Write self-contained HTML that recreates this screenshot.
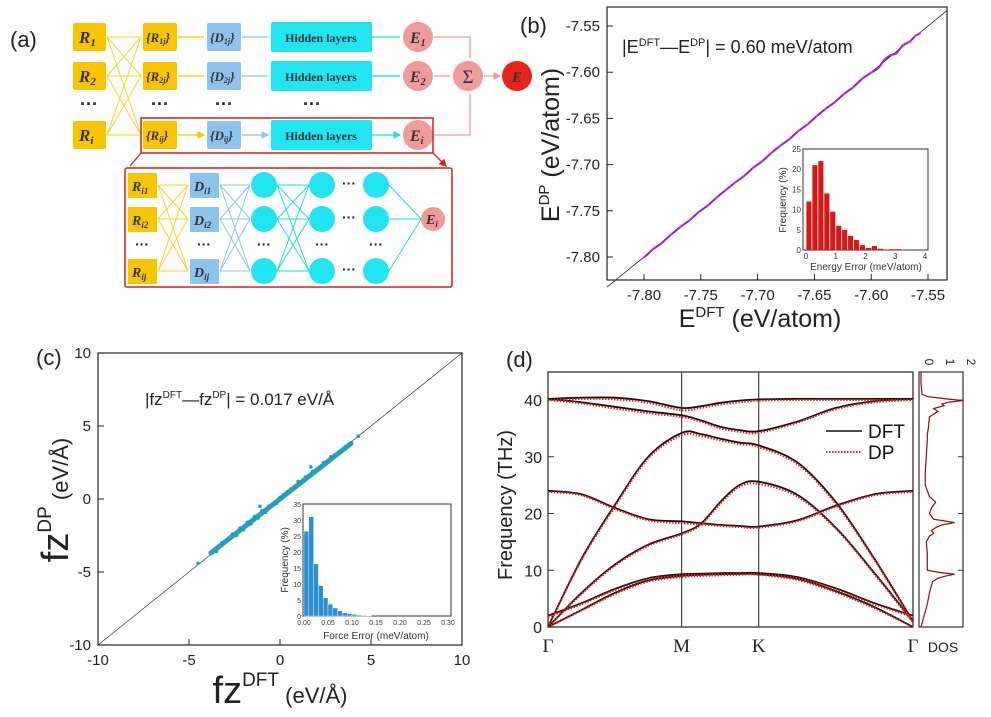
<!DOCTYPE html>
<html><head><meta charset="utf-8"><style>
html,body{margin:0;padding:0;background:#fff;}
svg{display:block;font-family:"Liberation Sans",sans-serif;}
.ser{font-family:"Liberation Serif",serif;font-weight:bold;font-style:italic;fill:#333;}
</style></head><body>
<svg id="fig" width="991" height="717" viewBox="0 0 991 717" xmlns="http://www.w3.org/2000/svg">
<defs>
<marker id="ay" markerWidth="6" markerHeight="6" refX="5" refY="3" orient="auto"><path d="M0,0 L6,3 L0,6 z" fill="#f7c600"/></marker>
<marker id="ab" markerWidth="6" markerHeight="6" refX="5" refY="3" orient="auto"><path d="M0,0 L6,3 L0,6 z" fill="#8cc4ee"/></marker>
<marker id="ac" markerWidth="6" markerHeight="6" refX="5" refY="3" orient="auto"><path d="M0,0 L6,3 L0,6 z" fill="#22dbe8"/></marker>
<marker id="ap" markerWidth="6" markerHeight="6" refX="5" refY="3" orient="auto"><path d="M0,0 L6,3 L0,6 z" fill="#f19a9a"/></marker>
<marker id="ar" markerWidth="6" markerHeight="6" refX="5" refY="3" orient="auto"><path d="M0,0 L6,3 L0,6 z" fill="#d02020"/></marker>
</defs>

<!-- ============ Panel (a) ============ -->
<g>
<text x="10" y="47" font-size="22" fill="#222">(a)</text>
<g stroke="#f7c600" stroke-width="1" fill="none" opacity="0.8">
<path d="M107,37 L141,37 M107,37 L141,76 M107,37 L141,135 M107,76 L141,37 M107,76 L141,76 M107,76 L141,135 M107,135 L141,37 M107,135 L141,76 M107,135 L141,135"/>
</g>
<g stroke-width="1.3" fill="none">
<path d="M178,37 H204 M178,76 H204 M178,135 H204" stroke="#f7c600" marker-end="url(#ay)"/>
<path d="M242,37 H268 M242,76 H268 M242,135 H268" stroke="#8cc4ee" marker-end="url(#ab)"/>
<path d="M372,37 H400 M372,76 H400 M372,135 H400" stroke="#22dbe8" marker-end="url(#ac)"/>
<path d="M434,37 H470 V58 M434,76 H450 M434,135 H470 V94 M484,76 H500" stroke="#f19a9a" marker-end="url(#ap)"/>
</g>
<g>
<rect x="73" y="23" width="33" height="28" rx="2" fill="#f7c600"/>
<rect x="73" y="62" width="33" height="28" rx="2" fill="#f7c600"/>
<rect x="73" y="121" width="33" height="28" rx="2" fill="#f7c600"/>
<text class="ser" x="79" y="43" font-size="17">R<tspan font-size="11" dy="3">1</tspan></text>
<text class="ser" x="79" y="82" font-size="17">R<tspan font-size="11" dy="3">2</tspan></text>
<text class="ser" x="79" y="141" font-size="17">R<tspan font-size="11" dy="3">i</tspan></text>
</g>
<g>
<rect x="143" y="23" width="34" height="28" rx="2" fill="#f7c600"/>
<rect x="143" y="62" width="34" height="28" rx="2" fill="#f7c600"/>
<rect x="143" y="121" width="34" height="28" rx="2" fill="#f7c600"/>
<text class="ser" x="146" y="42" font-size="13">{R<tspan font-size="8" dy="2">1j</tspan><tspan dy="-2">}</tspan></text>
<text class="ser" x="146" y="81" font-size="13">{R<tspan font-size="8" dy="2">2j</tspan><tspan dy="-2">}</tspan></text>
<text class="ser" x="146" y="140" font-size="13">{R<tspan font-size="8" dy="2">ij</tspan><tspan dy="-2">}</tspan></text>
</g>
<g>
<rect x="207" y="23" width="34" height="28" rx="2" fill="#8cc4ee"/>
<rect x="207" y="62" width="34" height="28" rx="2" fill="#8cc4ee"/>
<rect x="207" y="121" width="34" height="28" rx="2" fill="#8cc4ee"/>
<text class="ser" x="210" y="42" font-size="13">{D<tspan font-size="8" dy="2">1j</tspan><tspan dy="-2">}</tspan></text>
<text class="ser" x="210" y="81" font-size="13">{D<tspan font-size="8" dy="2">2j</tspan><tspan dy="-2">}</tspan></text>
<text class="ser" x="210" y="140" font-size="13">{D<tspan font-size="8" dy="2">ij</tspan><tspan dy="-2">}</tspan></text>
</g>
<g>
<rect x="271" y="22" width="101" height="30" rx="2" fill="#22e5f0"/>
<rect x="271" y="61" width="101" height="30" rx="2" fill="#22e5f0"/>
<rect x="271" y="120" width="101" height="30" rx="2" fill="#22e5f0"/>
<text x="321" y="42" font-size="12" font-weight="bold" text-anchor="middle" fill="#333" font-family="Liberation Serif,serif">Hidden layers</text>
<text x="321" y="81" font-size="12" font-weight="bold" text-anchor="middle" fill="#333" font-family="Liberation Serif,serif">Hidden layers</text>
<text x="321" y="140" font-size="12" font-weight="bold" text-anchor="middle" fill="#333" font-family="Liberation Serif,serif">Hidden layers</text>
</g>
<g font-size="18" font-weight="bold" fill="#222" text-anchor="middle">
<text x="89" y="110">···</text><text x="160" y="110">···</text><text x="224" y="110">···</text><text x="312" y="110">···</text>
</g>
<g>
<circle cx="418" cy="37" r="15" fill="#f19a9a"/>
<circle cx="418" cy="76" r="15" fill="#f19a9a"/>
<circle cx="418" cy="135" r="15" fill="#f19a9a"/>
<circle cx="468" cy="76" r="15" fill="#f19a9a"/>
<circle cx="517" cy="76" r="15" fill="#e8251c"/>
<text class="ser" x="410" y="43" font-size="16">E<tspan font-size="10" dy="3">1</tspan></text>
<text class="ser" x="410" y="82" font-size="16">E<tspan font-size="10" dy="3">2</tspan></text>
<text class="ser" x="410" y="141" font-size="16">E<tspan font-size="10" dy="3">i</tspan></text>
<text x="468" y="83" font-size="19" text-anchor="middle" fill="#333" font-family="Liberation Serif,serif">Σ</text>
<text class="ser" x="517" y="82" font-size="15" text-anchor="middle">E</text>
</g>
<rect x="141" y="118" width="292" height="35" fill="none" stroke="#d02020" stroke-width="1.5"/>
<path d="M141,153 L130,166 M433,153 L446,166" stroke="#d02020" stroke-width="1.3" marker-end="url(#ar)"/>
<rect x="125" y="168" width="327" height="119" rx="2" fill="none" stroke="#d02020" stroke-width="1.5"/>
<g stroke="#f7c600" stroke-width="1" fill="none" opacity="0.8">
<path d="M158,185 L188,185 M158,185 L188,219 M158,185 L188,271 M158,219 L188,185 M158,219 L188,219 M158,219 L188,271 M158,271 L188,185 M158,271 L188,219 M158,271 L188,271"/>
</g>
<g stroke="#8cc4ee" stroke-width="1" fill="none">
<path d="M220,185 L250,185 M220,185 L250,219 M220,185 L250,271 M220,219 L250,185 M220,219 L250,219 M220,219 L250,271 M220,271 L250,185 M220,271 L250,219 M220,271 L250,271"/>
</g>
<g stroke="#22dbe8" stroke-width="1" fill="none">
<path d="M277,185 L309,185 M277,185 L309,219 M277,185 L309,271 M277,219 L309,185 M277,219 L309,219 M277,219 L309,271 M277,271 L309,185 M277,271 L309,219 M277,271 L309,271 M389,185 L421,219 M389,219 L421,219 M389,271 L421,219"/>
</g>
<g>
<rect x="128" y="173" width="29" height="25" fill="#f7c600"/><rect x="128" y="207" width="29" height="25" fill="#f7c600"/><rect x="128" y="259" width="29" height="25" fill="#f7c600"/>
<rect x="190" y="173" width="29" height="25" fill="#8cc4ee"/><rect x="190" y="207" width="29" height="25" fill="#8cc4ee"/><rect x="190" y="259" width="29" height="25" fill="#8cc4ee"/>
<text class="ser" x="132" y="191" font-size="14">R<tspan font-size="9" dy="3">i1</tspan></text>
<text class="ser" x="132" y="225" font-size="14">R<tspan font-size="9" dy="3">i2</tspan></text>
<text class="ser" x="132" y="277" font-size="14">R<tspan font-size="9" dy="3">ij</tspan></text>
<text class="ser" x="194" y="191" font-size="14">D<tspan font-size="9" dy="3">i1</tspan></text>
<text class="ser" x="194" y="225" font-size="14">D<tspan font-size="9" dy="3">i2</tspan></text>
<text class="ser" x="194" y="277" font-size="14">D<tspan font-size="9" dy="3">ij</tspan></text>
<circle cx="264" cy="185" r="13" fill="#22e5f0"/><circle cx="264" cy="219" r="13" fill="#22e5f0"/><circle cx="264" cy="271" r="13" fill="#22e5f0"/>
<circle cx="322" cy="185" r="13" fill="#22e5f0"/><circle cx="322" cy="219" r="13" fill="#22e5f0"/><circle cx="322" cy="271" r="13" fill="#22e5f0"/>
<circle cx="376" cy="185" r="13" fill="#22e5f0"/><circle cx="376" cy="219" r="13" fill="#22e5f0"/><circle cx="376" cy="271" r="13" fill="#22e5f0"/>
<circle cx="433" cy="219" r="12" fill="#f19a9a"/>
<text class="ser" x="426" y="224" font-size="14">E<tspan font-size="9" dy="3">i</tspan></text>
<g font-size="14" font-weight="bold" fill="#222" text-anchor="middle"><text x="142" y="249">···</text><text x="204" y="249">···</text><text x="264" y="249">···</text><text x="322" y="249">···</text><text x="376" y="249">···</text><text x="349" y="188">···</text><text x="349" y="222">···</text><text x="349" y="274">···</text></g>
</g>
</g>

<!-- ============ Panel (b) ============ -->
<g id="pb">
<text x="520" y="33" font-size="22" fill="#222">(b)</text>
<rect x="607" y="7" width="340" height="273" fill="none" stroke="#222" stroke-width="1.2"/>
<text x="622" y="53" font-size="18" fill="#222">|E<tspan font-size="11" dy="-7">DFT</tspan><tspan dy="7">—E</tspan><tspan font-size="11" dy="-7">DP</tspan><tspan dy="7">| = 0.60 meV/atom</tspan></text>
<text transform="translate(559,145) rotate(-90)" text-anchor="middle" font-size="25" fill="#222">E<tspan font-size="15" dy="-10">DP</tspan><tspan dy="10"> (eV/atom)</tspan></text>
<text x="760" y="327" text-anchor="middle" font-size="25" fill="#222">E<tspan font-size="15" dy="-10">DFT</tspan><tspan dy="10"> (eV/atom)</tspan></text>
</g>

<!-- ============ Panel (c) ============ -->
<g id="pc">
<text x="36" y="365" font-size="22" fill="#222">(c)</text>
<rect x="98" y="353" width="364" height="292" fill="none" stroke="#222" stroke-width="1.2"/>
<text x="145" y="405" font-size="17" fill="#222">|fz<tspan font-size="10" dy="-7">DFT</tspan><tspan dy="7">—fz</tspan><tspan font-size="10" dy="-7">DP</tspan><tspan dy="7">| = 0.017 eV/Å</tspan></text>
<text transform="translate(68,500) rotate(-90)" text-anchor="middle" font-size="38" fill="#222">f<tspan>z</tspan><tspan font-size="19" dy="-17">DP</tspan><tspan font-size="22" dy="17"> (eV/Å)</tspan></text>
<text x="280" y="703" text-anchor="middle" font-size="38" fill="#222">fz<tspan font-size="19" dy="-17">DFT</tspan><tspan font-size="22" dy="17"> (eV/Å)</tspan></text>
</g>

<!-- ============ Panel (d) ============ -->
<g id="pd">
<text x="506" y="367" font-size="22" fill="#222">(d)</text>
<text transform="translate(512,505) rotate(-90)" text-anchor="middle" font-size="20" fill="#222">Frequency (THz)</text>
<text x="943" y="652" text-anchor="middle" font-size="14" fill="#222">DOS</text>
<g>
<line x1="826" y1="431" x2="862" y2="431" stroke="#111" stroke-width="1.6"/>
<text x="868" y="438" font-size="19" fill="#111">DFT</text>
<line x1="826" y1="452" x2="862" y2="452" stroke="#e02020" stroke-width="2" stroke-dasharray="1.5,1.5"/>
<text x="868" y="459" font-size="19" fill="#111">DP</text>
</g>
</g>
</svg>

<script>
// ---------- data: panel (b) ----------
const bTicks = [-7.80, -7.75, -7.70, -7.65, -7.60, -7.55];
const bTickLabels = ["-7.80", "-7.75", "-7.70", "-7.65", "-7.60", "-7.55"];
const bDft = [-7.800,-7.792,-7.785,-7.776,-7.768,-7.760,-7.752,-7.744,-7.736,-7.728,-7.720,-7.712,-7.704,-7.696,-7.688,-7.680,-7.672,-7.664,-7.656,-7.648,-7.640,-7.632,-7.624,-7.616,-7.608,-7.600,-7.594,-7.588,-7.583,-7.578,-7.572,-7.566,-7.561,-7.557];
const bDp  = [-7.8005,-7.7915,-7.7855,-7.7755,-7.7675,-7.7605,-7.7515,-7.7445,-7.7355,-7.7275,-7.7195,-7.7125,-7.7035,-7.6965,-7.6875,-7.6795,-7.6725,-7.6635,-7.6565,-7.6475,-7.6395,-7.6325,-7.6235,-7.6165,-7.6070,-7.6005,-7.5960,-7.5860,-7.5815,-7.5800,-7.5705,-7.5670,-7.5605,-7.5580];
const bHistBins = [0,0.2,0.4,0.6,0.8,1.0,1.2,1.4,1.6,1.8,2.0,2.2,2.4,2.6,2.8,3.0,3.2];
const bHistFreq = [12,21,22,14,9.5,6,5,3.5,2.5,1.2,0.5,1.0,0.3,0.1,0.2,0.2,0.1];
const bInsetXTicks = [0,1,2,3,4];
const bInsetYTicks = [0,5,10,15,20,25];
// ---------- data: panel (c) ----------
const cTicks = [-10,-5,0,5,10];
const cTickLabels = ["-10","-5","0","5","10"];
const cDft = [-4.5,-3.8,-3.5,-3.2,-2.9,-2.6,-2.4,-2.2,-2.0,-1.8,-1.6,-1.4,-1.2,-1.0,-0.8,-0.6,-0.4,-0.2,0,0.2,0.4,0.6,0.8,1.0,1.2,1.4,1.6,1.8,2.0,2.2,2.4,2.6,2.8,3.0,3.3,3.6,3.9,4.3,-1.1,1.7];
const cDp  = [-4.4,-3.7,-3.6,-3.0,-2.8,-2.4,-2.5,-2.0,-2.1,-1.6,-1.7,-1.2,-1.3,-0.8,-0.9,-0.5,-0.4,-0.3,0.1,0.3,0.5,0.7,0.8,1.2,1.2,1.5,1.6,1.9,2.0,2.2,2.5,2.6,2.9,3.0,3.2,3.5,3.8,4.3,-0.5,2.2];
const cHistBins = [0,0.01,0.02,0.03,0.04,0.05,0.06,0.07,0.08,0.09,0.10,0.11,0.12,0.13];
const cHistFreq = [26.5,31,16.3,9.5,5.7,3.7,2.5,1.6,1.0,0.7,0.5,0.3,0.2,0.1];
const cInsetXTicks = [0,0.05,0.10,0.15,0.20,0.25,0.30];
const cInsetXLabels = ["0.00","0.05","0.10","0.15","0.20","0.25","0.30"];
const cInsetYTicks = [0,5,10,15,20,25,30,35];
// ---------- data: panel (d) ----------
const kPath = [0,0.25,0.5,0.75,1, 1.144,1.289,1.433,1.577, 1.866,2.155,2.444,2.732];
const kLabels = ["Γ","M","K","Γ"];
const kLabelPos = [0,1,1.577,2.732];
const dTicks = [0,10,20,30,40];
const dftBand1 = [0,3,6,8.2,9, 9.2,9.3,9.35,9.3, 8.5,6.3,3.5,0];
const dftBand2 = [2,4.2,6.7,8.6,9.3, 9.4,9.5,9.5,9.5, 8.8,6.8,4.2,2];
const dftBand3 = [0,6,11,14.5,16.5, 18.2,22,25,25.6, 23.3,17.5,9.5,1];
const dftBand4 = [0,12,21.5,30,34.2, 34,33.2,32.5,32, 29,22,12,1];
const dftBand5 = [24,23.4,21,19,18.6, 18.3,18,17.8,17.7, 18.8,21.4,23.4,24];
const dftBand6 = [40.2,40.4,40.4,39.8,38.6, 38.9,39.5,39.9,40.1, 40.2,40.2,40.2,40.2];
const dftBand7 = [40.2,39.6,38.8,38,37.3, 36.4,35.3,34.7,34.5, 36.2,38.6,39.8,40.2];
const dpBand1 = [0,2.9,5.8,8.0,8.8, 9.0,9.1,9.2,9.2, 8.3,6.1,3.3,0];
const dpBand2 = [1.8,4.0,6.5,8.4,9.1, 9.2,9.3,9.3,9.3, 8.6,6.6,4.0,1.8];
const dpBand3 = [0,5.8,10.8,14.3,16.3, 18,21.7,24.7,25.2, 23,17.3,9.3,0.8];
const dpBand4 = [0,11.8,21.2,29.7,33.8, 33.6,32.9,32.2,31.7, 28.7,21.7,11.8,0.8];
const dpBand5 = [23.8,23.2,20.8,18.8,18.3, 18.1,17.8,17.6,17.5, 18.6,21.2,23.2,23.8];
const dpBand6 = [40.0,40.2,40.1,39.5,38.2, 38.6,39.2,39.6,39.9, 40.0,40.0,40.0,40.0];
const dpBand7 = [40.0,39.4,38.5,37.7,37.0, 36.2,35.0,34.4,34.2, 36.0,38.4,39.6,40.0];
const dosFreq = [0,2,4,6,8,8.6,9,9.3,9.6,10,11,13,15,16,16.5,17,17.5,18,18.4,18.7,19,19.5,20,21,22,23,24,25,27,30,33,34,35,37,38,38.5,39,39.3,39.6,39.9,40.2,40.6,41,43,45];
const dosVal  = [0,0.15,0.3,0.4,0.55,0.8,1.2,1.6,0.9,0.3,0.3,0.3,0.25,0.4,0.6,0.5,0.7,1.0,1.6,1.1,0.6,0.5,0.4,0.5,0.7,0.4,0.3,0.2,0.2,0.25,0.3,0.3,0.35,0.4,0.8,0.6,1.1,1.0,1.3,2.0,1.2,0.3,0.05,0,0];
const dosTicks = [0,1,2];

// ---------- helpers ----------
const NS = "http://www.w3.org/2000/svg";
const svg = document.getElementById("fig");
function E(tag, parent) { const e = document.createElementNS(NS, tag); (parent || svg).appendChild(e); return e; }
function lin(d0, d1, r0, r1) { return v => r0 + (v - d0) * (r1 - r0) / (d1 - d0); }
function smoothPath(pts) {
  let d = "M" + pts[0][0].toFixed(1) + "," + pts[0][1].toFixed(1);
  for (let i = 0; i < pts.length - 1; i++) {
    const p0 = pts[Math.max(0, i - 1)], p1 = pts[i], p2 = pts[i + 1], p3 = pts[Math.min(pts.length - 1, i + 2)];
    const c1 = [p1[0] + (p2[0] - p0[0]) / 6, p1[1] + (p2[1] - p0[1]) / 6];
    const c2 = [p2[0] - (p3[0] - p1[0]) / 6, p2[1] - (p3[1] - p1[1]) / 6];
    d += " C" + c1[0].toFixed(1) + "," + c1[1].toFixed(1) + " " + c2[0].toFixed(1) + "," + c2[1].toFixed(1) + " " + p2[0].toFixed(1) + "," + p2[1].toFixed(1);
  }
  return d;
}

// ---------- panel (b) ----------
const pb = document.getElementById("pb");
const bx = lin(-7.80, -7.55, 644, 928), by = lin(-7.80, -7.55, 257, 26);
bTicks.forEach((t, i) => {
  const tx = E("line", pb); tx.setAttribute("x1", bx(t)); tx.setAttribute("x2", bx(t)); tx.setAttribute("y1", 280); tx.setAttribute("y2", 274); tx.setAttribute("stroke", "#222");
  
  
  const lx = E("text", pb); lx.setAttribute("x", bx(t)); lx.setAttribute("y", 300); lx.setAttribute("text-anchor", "middle"); lx.setAttribute("font-size", "15"); lx.setAttribute("fill", "#222"); lx.textContent = bTickLabels[i];
  
  
  const ty = E("line", pb); ty.setAttribute("x1", 607); ty.setAttribute("x2", 613); ty.setAttribute("y1", by(t)); ty.setAttribute("y2", by(t)); ty.setAttribute("stroke", "#222");
  
  
  const ly = E("text", pb); ly.setAttribute("x", 600); ly.setAttribute("y", by(t) + 5); ly.setAttribute("text-anchor", "end"); ly.setAttribute("font-size", "15"); ly.setAttribute("fill", "#222"); ly.textContent = bTickLabels[i];
  
  
});
const bDiag = E("line", pb);
bDiag.setAttribute("x1", bx(-7.8326)); bDiag.setAttribute("y1", by(-7.8326)); bDiag.setAttribute("x2", bx(-7.533)); bDiag.setAttribute("y2", by(-7.533)); bDiag.setAttribute("stroke", "#222"); bDiag.setAttribute("stroke-width", "0.8");


const bBand = E("polyline", pb);
bBand.setAttribute("points", bDft.map((v, i) => bx(v) + "," + by(bDp[i])).join(" "));
bBand.setAttribute("fill", "none"); bBand.setAttribute("stroke", "#9a20b8"); bBand.setAttribute("stroke-width", "2");


bDft.forEach((v, i) => {
  const c = E("circle", pb); c.setAttribute("cx", bx(v)); c.setAttribute("cy", by(bDp[i])); c.setAttribute("r", 1.2); c.setAttribute("fill", "#c040e0");
  
  
});
const bix = lin(0, 4, 806, 925), biy = lin(0, 25, 250, 149);
const bInsetBg = E("rect", pb); bInsetBg.setAttribute("x", 803); bInsetBg.setAttribute("y", 149); bInsetBg.setAttribute("width", 125); bInsetBg.setAttribute("height", 101); bInsetBg.setAttribute("fill", "#fff"); bInsetBg.setAttribute("stroke", "#333");


bHistBins.forEach((b, i) => {
  const r = E("rect", pb); r.setAttribute("x", bix(b) + 0.4); r.setAttribute("width", bix(0.2) - bix(0) - 0.8); r.setAttribute("y", biy(bHistFreq[i])); r.setAttribute("height", biy(0) - biy(bHistFreq[i])); r.setAttribute("fill", "#d81818");
  
  
});
bInsetXTicks.forEach(t => {
  const l = E("text", pb); l.setAttribute("x", bix(t)); l.setAttribute("y", 259); l.setAttribute("text-anchor", "middle"); l.setAttribute("font-size", "8"); l.setAttribute("fill", "#333"); l.textContent = t;
  
  
});
bInsetYTicks.forEach(t => {
  const l = E("text", pb); l.setAttribute("x", 801); l.setAttribute("y", biy(t) + 3); l.setAttribute("text-anchor", "end"); l.setAttribute("font-size", "8"); l.setAttribute("fill", "#333"); l.textContent = t;
  
  
});
const bixt = E("text", pb); bixt.setAttribute("x", 866); bixt.setAttribute("y", 270); bixt.setAttribute("text-anchor", "middle"); bixt.setAttribute("font-size", "10"); bixt.setAttribute("fill", "#333"); bixt.textContent = "Energy Error (meV/atom)";


const biyt = E("text", pb); biyt.setAttribute("transform", "translate(786,200) rotate(-90)"); biyt.setAttribute("text-anchor", "middle"); biyt.setAttribute("font-size", "10"); biyt.setAttribute("fill", "#333"); biyt.textContent = "Frequency (%)";



// ---------- panel (c) ----------
const pc = document.getElementById("pc");
const cx = lin(-10, 10, 98, 462), cy = lin(-10, 10, 645, 353);
cTicks.forEach((t, i) => {
  const tx = E("line", pc); tx.setAttribute("x1", cx(t)); tx.setAttribute("x2", cx(t)); tx.setAttribute("y1", 645); tx.setAttribute("y2", 639); tx.setAttribute("stroke", "#222");
  
  
  const lx = E("text", pc); lx.setAttribute("x", cx(t)); lx.setAttribute("y", 665); lx.setAttribute("text-anchor", "middle"); lx.setAttribute("font-size", "15"); lx.setAttribute("fill", "#222"); lx.textContent = cTickLabels[i];
  
  
  const ty = E("line", pc); ty.setAttribute("x1", 98); ty.setAttribute("x2", 104); ty.setAttribute("y1", cy(t)); ty.setAttribute("y2", cy(t)); ty.setAttribute("stroke", "#222");
  
  
  const ly = E("text", pc); ly.setAttribute("x", 91); ly.setAttribute("y", cy(t) + 5); ly.setAttribute("text-anchor", "end"); ly.setAttribute("font-size", "15"); ly.setAttribute("fill", "#222"); ly.textContent = cTickLabels[i];
  
  
});
const cDiag = E("line", pc);
cDiag.setAttribute("x1", cx(-10)); cDiag.setAttribute("y1", cy(-10)); cDiag.setAttribute("x2", cx(10)); cDiag.setAttribute("y2", cy(10)); cDiag.setAttribute("stroke", "#333"); cDiag.setAttribute("stroke-width", "0.7");


const cBand = E("line", pc);
cBand.setAttribute("x1", cx(-3.8)); cBand.setAttribute("y1", cy(-3.7)); cBand.setAttribute("x2", cx(3.9)); cBand.setAttribute("y2", cy(3.8)); cBand.setAttribute("stroke", "#2aa0c0"); cBand.setAttribute("stroke-width", "5"); cBand.setAttribute("stroke-linecap", "round");


cDft.forEach((v, i) => {
  const c = E("circle", pc); c.setAttribute("cx", cx(v)); c.setAttribute("cy", cy(cDp[i])); c.setAttribute("r", 1.8); c.setAttribute("fill", "#1f9dbd");
  
  
});
const cix = lin(0, 0.30, 304, 448), ciy = lin(0, 35, 616, 504);
const cInsetBg = E("rect", pc); cInsetBg.setAttribute("x", 303); cInsetBg.setAttribute("y", 504); cInsetBg.setAttribute("width", 148); cInsetBg.setAttribute("height", 112); cInsetBg.setAttribute("fill", "#fff"); cInsetBg.setAttribute("stroke", "#333");


cHistBins.forEach((b, i) => {
  const r = E("rect", pc); r.setAttribute("x", cix(b)); r.setAttribute("width", cix(0.01) - cix(0)); r.setAttribute("y", ciy(cHistFreq[i])); r.setAttribute("height", ciy(0) - ciy(cHistFreq[i])); r.setAttribute("fill", "#2a8fd8"); r.setAttribute("stroke", "#fff"); r.setAttribute("stroke-width", "0.4");
  
  
});
cInsetXTicks.forEach((t, i) => {
  const l = E("text", pc); l.setAttribute("x", cix(t)); l.setAttribute("y", 625); l.setAttribute("text-anchor", "middle"); l.setAttribute("font-size", "7"); l.setAttribute("fill", "#333"); l.textContent = cInsetXLabels[i];
  
  
});
cInsetYTicks.forEach(t => {
  const l = E("text", pc); l.setAttribute("x", 301); l.setAttribute("y", ciy(t) + 3); l.setAttribute("text-anchor", "end"); l.setAttribute("font-size", "7"); l.setAttribute("fill", "#333"); l.textContent = t;
  
  
});
const cixt = E("text", pc); cixt.setAttribute("x", 376); cixt.setAttribute("y", 639); cixt.setAttribute("text-anchor", "middle"); cixt.setAttribute("font-size", "10"); cixt.setAttribute("fill", "#333"); cixt.textContent = "Force Error (meV/atom)";


const ciyt = E("text", pc); ciyt.setAttribute("transform", "translate(288,560) rotate(-90)"); ciyt.setAttribute("text-anchor", "middle"); ciyt.setAttribute("font-size", "10"); ciyt.setAttribute("fill", "#333"); ciyt.textContent = "Frequency (%)";



// ---------- panel (d) ----------
const pd = document.getElementById("pd");
const dx = lin(0, 2.732, 548, 913), dy = lin(0, 40, 627, 400);
const dFrame = E("rect", pd); dFrame.setAttribute("x", 548); dFrame.setAttribute("y", 372); dFrame.setAttribute("width", 365); dFrame.setAttribute("height", 255); dFrame.setAttribute("fill", "none"); dFrame.setAttribute("stroke", "#333"); dFrame.setAttribute("stroke-width", "1.3");


kLabelPos.forEach((k, i) => {
  if (i > 0 && i < 3) {
    const v = E("line", pd); v.setAttribute("x1", dx(k)); v.setAttribute("x2", dx(k)); v.setAttribute("y1", 372); v.setAttribute("y2", 627); v.setAttribute("stroke", "#444"); v.setAttribute("stroke-width", "1.2");
    
    
  }
  const t = E("text", pd); t.setAttribute("x", dx(k)); t.setAttribute("y", 652); t.setAttribute("text-anchor", "middle"); t.setAttribute("font-size", "19"); t.setAttribute("font-family", "Liberation Serif, serif"); t.setAttribute("fill", "#222"); t.textContent = kLabels[i];
  
  
});
dTicks.forEach(t => {
  const l = E("line", pd); l.setAttribute("x1", 548); l.setAttribute("x2", 554); l.setAttribute("y1", dy(t)); l.setAttribute("y2", dy(t)); l.setAttribute("stroke", "#333");
  
  
  const r = E("line", pd); r.setAttribute("x1", 963); r.setAttribute("x2", 958); r.setAttribute("y1", dy(t)); r.setAttribute("y2", dy(t)); r.setAttribute("stroke", "#333");
  
  
  const lb = E("text", pd); lb.setAttribute("x", 542); lb.setAttribute("y", dy(t) + 6); lb.setAttribute("text-anchor", "end"); lb.setAttribute("font-size", "16"); lb.setAttribute("fill", "#222"); lb.textContent = t;
  
  
});
const dftBands = [dftBand1, dftBand2, dftBand3, dftBand4, dftBand5, dftBand6, dftBand7];
const dpBands = [dpBand1, dpBand2, dpBand3, dpBand4, dpBand5, dpBand6, dpBand7];
dftBands.forEach(b => {
  const p = E("path", pd); p.setAttribute("d", smoothPath(kPath.map((k, i) => [dx(k), dy(b[i])]))); p.setAttribute("fill", "none"); p.setAttribute("stroke", "#111"); p.setAttribute("stroke-width", "1.8");
  
  
});
dpBands.forEach(b => {
  const p = E("path", pd); p.setAttribute("d", smoothPath(kPath.map((k, i) => [dx(k), dy(b[i])]))); p.setAttribute("fill", "none"); p.setAttribute("stroke", "#e02020"); p.setAttribute("stroke-width", "2"); p.setAttribute("stroke-dasharray", "1.5,1.5");
  
  
});
const sx = lin(0, 2, 921, 963);
const dosFrame = E("rect", pd); dosFrame.setAttribute("x", 919); dosFrame.setAttribute("y", 372); dosFrame.setAttribute("width", 44); dosFrame.setAttribute("height", 255); dosFrame.setAttribute("fill", "none"); dosFrame.setAttribute("stroke", "#333"); dosFrame.setAttribute("stroke-width", "1.2");


dosTicks.forEach(t => {
  const l = E("text", pd); l.setAttribute("transform", "translate(" + (sx(t) + 4) + ",362) rotate(90)"); l.setAttribute("font-size", "12"); l.setAttribute("fill", "#222"); l.setAttribute("text-anchor", "middle"); l.textContent = t;
  
  
});
const dosLine = E("polyline", pd);
dosLine.setAttribute("points", dosFreq.map((f, i) => sx(dosVal[i]) + "," + dy(f)).join(" "));
dosLine.setAttribute("fill", "none"); dosLine.setAttribute("stroke", "#8a1010"); dosLine.setAttribute("stroke-width", "1.2");


</script>
</body></html>
